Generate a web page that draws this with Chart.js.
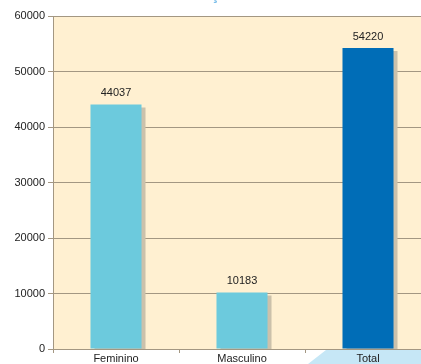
<!DOCTYPE html>
<html>
<head>
<meta charset="utf-8">
<script src="https://cdn.jsdelivr.net/npm/chart.js@4"></script>
<style>
  html, body { margin: 0; padding: 0; overflow: hidden; background: #fff; }
  #wrap { width: 421px; height: 364px; overflow: hidden; }
</style>
</head>
<body>
<div id="wrap"><canvas id="chart" width="431" height="364"></canvas></div>
<script>
const title = 'DISTRIBUIÇÃO POR SEXO';
const categories = ['Feminino', 'Masculino', 'Total'];
const values = [44037, 10183, 54220];
const barColors = ['#6ccadd', '#6ccadd', '#006db7'];
const yTicks = [0, 10000, 20000, 30000, 40000, 50000, 60000];

const FONT = '"Liberation Sans", Arial, sans-serif';

// cream plot background, the blue tab under the last label and the clipped heading
const backdrop = {
  id: 'backdrop',
  beforeDraw(chart) {
    const { ctx, chartArea: a, scales } = chart;
    ctx.save();
    ctx.fillStyle = '#fff0d1';
    ctx.fillRect(a.left, a.top, a.right - a.left, a.bottom - a.top);

    const cx = scales.x.getPixelForValue(2);
    ctx.fillStyle = '#c6e7f6';
    ctx.beginPath();
    ctx.moveTo(cx - 42, a.bottom + 1);
    ctx.lineTo(chart.width, a.bottom + 1);
    ctx.lineTo(chart.width, chart.height);
    ctx.lineTo(cx - 60, chart.height);
    ctx.closePath();
    ctx.fill();

    ctx.fillStyle = '#7fc0ea';
    ctx.font = 'bold 16px ' + FONT;
    ctx.textAlign = 'center';
    ctx.textBaseline = 'alphabetic';
    ctx.fillText(title, 231, 0.4);
    ctx.restore();
  },
};

// flat drop shadow behind each bar
const barShadow = {
  id: 'barShadow',
  beforeDatasetDraw(chart) {
    const ctx = chart.ctx;
    ctx.save();
    ctx.shadowColor = '#cbc1ab';
    ctx.shadowOffsetX = 4;
    ctx.shadowOffsetY = 3;
    ctx.shadowBlur = 0;
  },
  afterDatasetDraw(chart) {
    chart.ctx.restore();
  },
};

const valueLabels = {
  id: 'valueLabels',
  afterDatasetsDraw(chart) {
    const { ctx } = chart;
    const meta = chart.getDatasetMeta(0);
    ctx.save();
    ctx.fillStyle = '#222';
    ctx.font = '11px ' + FONT;
    ctx.textAlign = 'center';
    ctx.textBaseline = 'bottom';
    meta.data.forEach((bar, i) => {
      ctx.fillText(String(values[i]), bar.x, bar.y - 6);
    });
    ctx.restore();
  },
};

new Chart(document.getElementById('chart'), {
  type: 'bar',
  data: {
    labels: categories,
    datasets: [{
      data: values,
      backgroundColor: barColors,
      barPercentage: 0.5,
      categoryPercentage: 0.81,
    }],
  },
  options: {
    responsive: false,
    animation: false,
    devicePixelRatio: 1,
    layout: { padding: { top: 16, right: 0, left: 0, bottom: 0 } },
    plugins: { legend: { display: false }, tooltip: { enabled: false } },
    scales: {
      x: {
        offset: true,
        grid: { drawOnChartArea: false, color: '#a39782', tickLength: 4, offset: true },
        border: { color: '#a39782' },
        ticks: { color: '#222', font: { family: FONT, size: 11, lineHeight: 1 }, padding: 0, maxRotation: 0 },
        afterFit(scale) { scale.height = 15; },
      },
      y: {
        min: 0,
        max: 60000,
        afterBuildTicks(scale) { scale.ticks = yTicks.map((v) => ({ value: v })); },
        grid: { color: '#a39782', tickLength: 5 },
        border: { color: '#a39782' },
        ticks: {
          color: '#222',
          font: { family: FONT, size: 11 },
          padding: 3,
          callback: (v) => String(v),
        },
        afterFit(scale) { scale.width = 53; },
      },
    },
  },
  plugins: [backdrop, barShadow, valueLabels],
});
</script>
</body>
</html>
